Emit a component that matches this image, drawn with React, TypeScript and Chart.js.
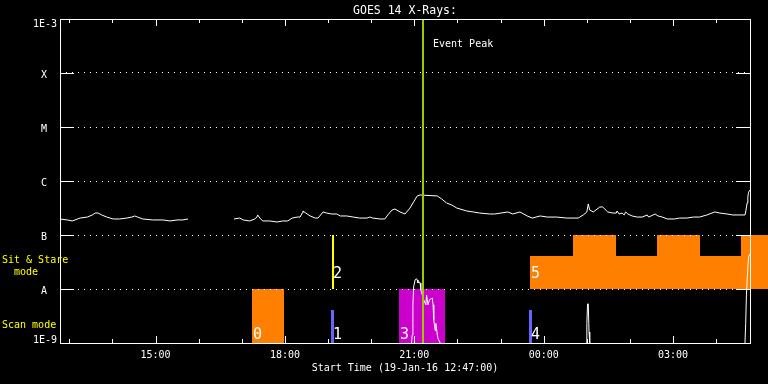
import React, { useEffect, useRef } from 'react';
import { Chart, registerables } from 'chart.js';

Chart.register(...registerables);

// ---------- data ----------
const titleText = 'GOES 14 X-Rays:';
const xAxisTitle = 'Start Time (19-Jan-16 12:47:00)';
const startTime = '12:47';
const endTime = '04:47';
const xTickLabels = ['15:00', '18:00', '21:00', '00:00', '03:00'];
const yTickValues = [1e-9, 1e-8, 1e-7, 1e-6, 1e-5, 1e-4, 1e-3];
const yTickLabels = ['1E-9', 'A', 'B', 'C', 'M', 'X', '1E-3'];

// long channel (1-8 A)
const longTimes = [
  '12:47', '12:57', '13:04', '13:15', '13:25', '13:32', '13:36', '13:40', '13:45', '13:52',
  '14:01', '14:10', '14:20', '14:27', '14:31', '14:35', '14:42', '14:56', '15:10', '15:20',
  '15:30', '15:38', '15:45', '16:15', '16:49', '16:57', '17:02', '17:11', '17:18', '17:21',
  '17:22', '17:25', '17:29', '17:39', '17:49', '17:57', '18:04', '18:10', '18:17', '18:21',
  '18:24', '18:25', '18:29', '18:35', '18:42', '18:46', '18:53', '18:58', '19:05', '19:12',
  '19:17', '19:26', '19:35', '19:44', '19:54', '19:58', '20:02', '20:12', '20:19', '20:23',
  '20:29', '20:33', '20:40', '20:47', '20:54', '20:58', '21:04', '21:08', '21:32', '21:38',
  '21:45', '21:52', '21:59', '22:13', '22:22', '22:31', '22:45', '22:52', '23:10', '23:17',
  '23:27', '23:37', '23:44', '23:55', '00:05', '00:18', '00:32', '00:48', '00:55', '01:00',
  '01:02', '01:04', '01:09', '01:18', '01:22', '01:29', '01:36', '01:41', '01:42', '01:45',
  '01:49', '01:52', '01:54', '01:57', '02:03', '02:10', '02:17', '02:24', '02:26', '02:35',
  '02:39', '02:45', '02:52', '03:02', '03:09', '03:19', '03:28', '03:37', '03:47', '03:58',
  '04:05', '04:15', '04:23', '04:33', '04:40', '04:41', '04:43', '04:44', '04:45', '04:47',
];
const longFlux = [
  1.98e-7, 1.90e-7, 1.82e-7, 2.06e-7, 2.15e-7, 2.35e-7, 2.55e-7, 2.55e-7, 2.35e-7, 2.15e-7,
  1.98e-7, 1.98e-7, 2.06e-7, 2.15e-7, 2.25e-7, 2.15e-7, 1.98e-7, 1.90e-7, 1.90e-7, 1.82e-7,
  1.90e-7, 1.90e-7, 1.98e-7, null, 1.98e-7, 2.06e-7, 1.90e-7, 1.82e-7, 1.98e-7, 2.15e-7,
  2.35e-7, 2.06e-7, 1.82e-7, 1.82e-7, 1.74e-7, 1.82e-7, 1.82e-7, 2.06e-7, 2.15e-7, 2.15e-7,
  2.55e-7, 2.78e-7, 2.55e-7, 2.25e-7, 2.06e-7, 2.06e-7, 2.67e-7, 2.55e-7, 2.45e-7, 2.45e-7,
  2.25e-7, 2.25e-7, 2.15e-7, 2.06e-7, 2.06e-7, 2.15e-7, 2.06e-7, 1.98e-7, 1.98e-7, 2.35e-7,
  2.90e-7, 3.03e-7, 2.67e-7, 2.45e-7, 3.16e-7, 3.91e-7, 5.28e-7, 5.51e-7, 5.28e-7, 4.64e-7,
  3.91e-7, 3.59e-7, 3.16e-7, 2.78e-7, 2.67e-7, 2.55e-7, 2.45e-7, 2.45e-7, 2.67e-7, 2.45e-7,
  2.67e-7, 2.25e-7, 2.06e-7, 2.25e-7, 2.15e-7, 2.15e-7, 2.06e-7, 2.06e-7, 2.35e-7, 2.67e-7,
  3.75e-7, 2.90e-7, 2.67e-7, 3.30e-7, 3.30e-7, 2.67e-7, 2.55e-7, 2.55e-7, 2.78e-7, 2.45e-7,
  2.55e-7, 2.35e-7, 2.67e-7, 2.45e-7, 2.25e-7, 2.15e-7, 2.15e-7, 2.35e-7, 2.15e-7, 2.45e-7,
  2.25e-7, 2.15e-7, 1.98e-7, 1.98e-7, 2.06e-7, 2.06e-7, 2.15e-7, 2.15e-7, 2.35e-7, 2.67e-7,
  2.55e-7, 2.45e-7, 2.35e-7, 2.35e-7, 2.35e-7, 2.67e-7, 3.91e-7, 5.05e-7, 6.20e-7, 6.80e-7,
];

// short channel (0.5-4 A)
const shortTimes = [
  '20:56', '20:57', '20:58', '20:59', '21:01', '21:03', '21:04', '21:05', '21:07', '21:08',
  '21:09', '21:13', '21:16', '21:17', '21:19', '21:21', '21:25', '21:26', '21:27', '21:29',
  '21:30', '21:32', '21:33', '21:36', '22:30', '00:59', '01:00', '01:01', '01:02', '01:03',
  '01:04', '02:00', '04:40', '04:41', '04:42', '04:44', '04:45', '04:47',
];
const shortFlux = [
  1.0e-9, 1.4e-9, 5.1e-9, 1.09e-8, 1.47e-8, 1.55e-8, 1.47e-8, 1.29e-8, 1.35e-8, 1.29e-8,
  9.6e-9, 6.3e-9, 5.1e-9, 7.7e-9, 5.1e-9, 6.3e-9, 6.8e-9, 5.1e-9, 2.7e-9, 1.7e-9,
  2.3e-9, 1.4e-9, 1.2e-9, 1.0e-9, null, 1.0e-9, 2.3e-9, 5.3e-9, 5.3e-9, 1.6e-9,
  1.0e-9, null, 1.0e-9, 2.3e-9, 7.7e-9, 2.6e-8, 3.9e-8, 4.5e-8,
];

// instrument modes
const scanBand = [1e-9, 1e-8];
const stareBand = [1e-8, 1e-7];
const scanBlockStart = ['17:14', '20:38'];
const scanBlockEnd = ['17:59', '21:43'];
const scanMarkTimes = ['19:05', '23:41'];
const scanMarkTop = 4.1e-9;
const stareMarkTimes = ['19:05'];
const stareStepTimes = ['23:41', '00:41', '01:41', '02:38', '03:37', '04:35', '05:12'];
const stareStepFlux = [4.1e-8, 1e-7, 4.1e-8, 1e-7, 4.1e-8, 1e-7];
const modeLabels = ['0', '1', '2', '3', '4', '5'];
const modeLabelTimes = ['17:14', '19:05', '19:05', '20:38', '23:41', '23:41'];
const modeLabelBand = ['scan', 'scan', 'stare', 'scan', 'scan', 'stare'];
const eventPeakTime = '21:12';
const eventPeakLabel = 'Event Peak';
const sideLabelStare = ['Sit & Stare', '  mode'];
const sideLabelScan = 'Scan mode';

// ---------- helpers / styles ----------
const toH = (t: string) => {
  const [h, m] = t.split(':').map(Number);
  return (h < 12 ? h + 24 : h) + m / 60;
};
const FONT = '"DejaVu Sans Mono", monospace';
const scanBlockColors = ['#ff8000', '#cc00cc'];
const stareColor = '#ff8000';
const scanMarkColor = '#6464ff';
const stareMarkColor = '#ffff00';
const peakColor = '#99cc00';

const xMin = toH(startTime);
const xMax = toH(endTime);
const hourTicks: number[] = [];
for (let h = Math.ceil(xMin); h <= Math.floor(xMax); h++) hourTicks.push(h);

const toPoints = (times: string[], vals: (number | null)[]) =>
  times.map((t, i) => ({ x: toH(t), y: vals[i] }));

const goesPlugin = {
  id: 'goesDecor',
  beforeDraw(chart: any) {
    const { ctx, chartArea: a } = chart;
    const xs = chart.scales.x;
    const ys = chart.scales.y;
    const X = (t: string) => Math.round(xs.getPixelForValue(toH(t)));
    const Y = (v: number) => Math.round(ys.getPixelForValue(v));
    ctx.save();
    ctx.fillStyle = '#000';
    ctx.fillRect(0, 0, chart.width, chart.height);
    // scan-mode blocks
    scanBlockStart.forEach((s, i) => {
      const x1 = X(s), x2 = X(scanBlockEnd[i]);
      const y1 = Y(scanBand[1]), y2 = Y(scanBand[0]);
      ctx.fillStyle = scanBlockColors[i % scanBlockColors.length];
      ctx.fillRect(x1, y1, x2 - x1, y2 - y1 + 1);
    });
    // sit & stare steps
    ctx.fillStyle = stareColor;
    for (let i = 0; i < stareStepFlux.length; i++) {
      const x1 = X(stareStepTimes[i]), x2 = X(stareStepTimes[i + 1]);
      const y1 = Y(stareStepFlux[i]), y2 = Y(stareBand[0]);
      ctx.fillRect(x1, y1, x2 - x1, y2 - y1);
    }
    // scan markers
    ctx.fillStyle = scanMarkColor;
    scanMarkTimes.forEach((t) => {
      const x = X(t);
      const y1 = Y(scanMarkTop), y2 = Y(scanBand[0]);
      ctx.fillRect(x - 1, y1, 3, y2 - y1);
    });
    // stare markers
    ctx.fillStyle = stareMarkColor;
    stareMarkTimes.forEach((t) => {
      const x = X(t);
      const y1 = Y(stareBand[1]), y2 = Y(stareBand[0]);
      ctx.fillRect(x, y1, 2, y2 - y1);
    });
    // mode labels
    ctx.fillStyle = '#ffffff';
    ctx.font = `15px ${FONT}`;
    ctx.textAlign = 'left';
    ctx.textBaseline = 'alphabetic';
    modeLabels.forEach((lab, i) => {
      const x = X(modeLabelTimes[i]);
      const y = modeLabelBand[i] === 'scan' ? Y(scanBand[0]) - 4 : Y(stareBand[0]) - 11;
      ctx.fillText(lab, x + 1, y);
    });
    ctx.restore();
  },
  afterDatasetsDraw(chart: any) {
    const { ctx, chartArea: a } = chart;
    const xs = chart.scales.x;
    const px = Math.round(xs.getPixelForValue(toH(eventPeakTime)));
    ctx.save();
    ctx.fillStyle = peakColor;
    ctx.fillRect(px - 1, a.top, 2, a.bottom - a.top);
    ctx.fillStyle = '#ffffff';
    ctx.font = `10px ${FONT}`;
    ctx.textAlign = 'left';
    ctx.textBaseline = 'alphabetic';
    ctx.fillText(eventPeakLabel, px + 10, a.top + 28);
    ctx.restore();
  },
  afterDraw(chart: any) {
    const { ctx, chartArea: a } = chart;
    const xs = chart.scales.x;
    const ys = chart.scales.y;
    ctx.save();
    ctx.strokeStyle = '#ffffff';
    ctx.lineWidth = 1;
    ctx.strokeRect(a.left + 0.5, a.top + 0.5, a.right - a.left, a.bottom - a.top);
    ctx.beginPath();
    hourTicks.forEach((h) => {
      const x = Math.round(xs.getPixelForValue(h)) + 0.5;
      const len = h % 3 === 0 ? 7 : 4;
      ctx.moveTo(x, a.top);
      ctx.lineTo(x, a.top + len);
      ctx.moveTo(x, a.bottom);
      ctx.lineTo(x, a.bottom - len);
    });
    yTickValues.forEach((v) => {
      const y = Math.round(ys.getPixelForValue(v)) + 0.5;
      ctx.moveTo(a.left, y);
      ctx.lineTo(a.left + 14, y);
      ctx.moveTo(a.right, y);
      ctx.lineTo(a.right - 14, y);
    });
    ctx.stroke();
    // y labels
    ctx.fillStyle = '#ffffff';
    ctx.font = `10px ${FONT}`;
    ctx.textBaseline = 'alphabetic';
    yTickValues.forEach((v, i) => {
      const y = Math.round(ys.getPixelForValue(v));
      const lab = yTickLabels[i];
      let by = y + 5;
      if (i === 0) by = y;
      if (i === yTickValues.length - 1) by = y + 8;
      if (lab.length === 1) {
        ctx.textAlign = 'center';
        ctx.fillText(lab, a.left - 16, by);
      } else {
        ctx.textAlign = 'right';
        ctx.fillText(lab, a.left - 3, by);
      }
    });
    // title
    ctx.font = `11.5px ${FONT}`;
    ctx.textAlign = 'center';
    ctx.fillText(titleText, (a.left + a.right) / 2, 14);
    // side labels
    ctx.fillStyle = '#ffff00';
    ctx.font = `10px ${FONT}`;
    ctx.textAlign = 'left';
    const yB = Math.round(ys.getPixelForValue(stareBand[1]));
    ctx.fillText(sideLabelStare[0], 2, yB + 28);
    ctx.fillText(sideLabelStare[1], 2, yB + 40);
    const yS = Math.round(ys.getPixelForValue(scanBand[0]));
    ctx.fillText(sideLabelScan, 2, yS - 15);
    ctx.restore();
  },
};

export default function App() {
  const canvasRef = useRef<HTMLCanvasElement | null>(null);
  useEffect(() => {
    if (!canvasRef.current) return;
    const chart = new Chart(canvasRef.current, {
      type: 'line',
      data: {
        datasets: [
          {
            label: 'long',
            data: toPoints(longTimes, longFlux),
            borderColor: '#ffffff',
            borderWidth: 1,
            pointRadius: 0,
            tension: 0,
            spanGaps: false,
            fill: false,
          },
          {
            label: 'short',
            data: toPoints(shortTimes, shortFlux),
            borderColor: '#ffffff',
            borderWidth: 1,
            pointRadius: 0,
            tension: 0,
            spanGaps: false,
            fill: false,
          },
        ],
      },
      options: {
        animation: false,
        responsive: false,
        maintainAspectRatio: false,
        devicePixelRatio: 1,
        events: [],
        layout: { padding: { left: 0, right: 18, top: 19, bottom: 0 } },
        plugins: {
          legend: { display: false },
          title: { display: false },
          tooltip: { enabled: false },
        },
        scales: {
          x: {
            type: 'linear',
            position: 'bottom',
            min: xMin,
            max: xMax,
            bounds: 'data',
            afterBuildTicks: (s: any) => {
              s.ticks = hourTicks.map((v) => ({ value: v }));
            },
            afterFit: (s: any) => {
              s.height = 41;
            },
            grid: { display: false, drawTicks: false },
            border: { display: false },
            ticks: {
              autoSkip: false,
              maxRotation: 0,
              minRotation: 0,
              padding: 6,
              color: '#ffffff',
              font: { family: FONT, size: 10, lineHeight: 1.2 },
              callback: (v: any) => {
                const m = xTickLabels.find((l) => Math.abs(toH(l) - Number(v)) < 1e-6);
                return m ?? '';
              },
            },
            title: {
              display: true,
              text: xAxisTitle,
              color: '#ffffff',
              font: { family: FONT, size: 10, lineHeight: 1.2 },
              padding: { top: 0, bottom: 10 },
            },
          },
          y: {
            type: 'logarithmic',
            min: 1e-9,
            max: 1e-3,
            afterBuildTicks: (s: any) => {
              s.ticks = yTickValues.map((v) => ({ value: v }));
            },
            afterFit: (s: any) => {
              s.width = 60;
            },
            grid: { color: '#ffffff', lineWidth: 1, drawTicks: false },
            border: { display: false, dash: [1, 5] },
            ticks: { display: false },
          },
        },
      } as any,
      plugins: [goesPlugin],
    });
    return () => chart.destroy();
  }, []);
  return (
    <div style={{ position: 'absolute', left: 0, top: 0, width: 768, height: 384, background: '#000' }}>
      <canvas ref={canvasRef} width={768} height={384} />
    </div>
  );
}
